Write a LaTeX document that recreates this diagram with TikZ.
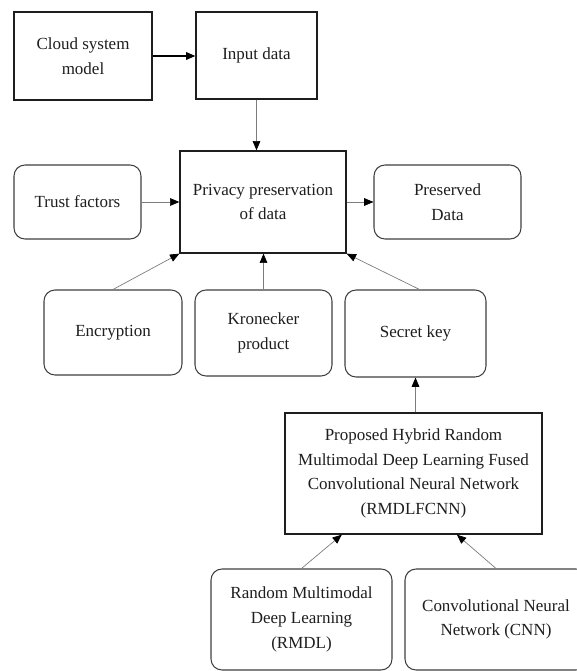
\documentclass[tikz,border=0pt]{standalone}
\usepackage{fontspec}
\setmainfont{Liberation Serif}
\usetikzlibrary{arrows.meta,positioning}
\definecolor{ink}{RGB}{30,30,30}
\definecolor{wire}{RGB}{125,125,125}
\tikzset{
  >={Triangle[length=2.8mm,width=2.3mm,color=black]},
  sqbox/.style={draw=ink,line width=1.1pt,fill=white,align=center,
    text=ink,font=\fontsize{14.5}{21}\selectfont,inner sep=2pt},
  rbox/.style={sqbox,draw=ink!85,line width=0.9pt,rounded corners=0.33cm},
  flow/.style={->,draw=wire,line width=0.6pt},
  bold flow/.style={->,draw=black,line width=1.3pt},
}

\begin{document}
\begin{tikzpicture}
    \useasboundingbox (0,0) rectangle (17.28,-20.13);
    % top row
    \node[sqbox,minimum width=4.14cm,minimum height=2.64cm] (cloud) at (2.49,-1.68) {Cloud system\\model};
    \node[sqbox,minimum width=3.63cm,minimum height=2.61cm] (input) at (7.695,-1.665) {Input data};
    % middle row
    \node[sqbox,minimum width=4.98cm,minimum height=3.06cm] (privacy) at (7.89,-6.06) {Privacy preservation\\of data};
    \node[rbox,minimum width=3.81cm,minimum height=2.22cm] (trust) at (2.325,-6.06) {Trust factors};
    \node[rbox,minimum width=4.41cm,minimum height=2.22cm] (preserved) at (13.425,-6.06) {Preserved\\Data};
    % techniques
    \node[rbox,minimum width=4.14cm,minimum height=2.55cm] (encrypt) at (3.39,-9.975) {Encryption};
    \node[rbox,minimum width=4.11cm,minimum height=2.58cm] (kron) at (7.905,-9.99) {Kronecker\\product};
    \node[rbox,minimum width=4.23cm,minimum height=2.61cm] (secret) at (12.465,-10.005) {Secret key};
    % proposed model
    \node[sqbox,minimum width=7.71cm,minimum height=3.63cm] (rmdlfcnn) at (12.405,-14.205) {Proposed Hybrid Random\\Multimodal Deep Learning Fused\\Convolutional Neural Network\\(RMDLFCNN)};
    \node[rbox,minimum width=5.43cm,minimum height=3.03cm] (rmdl) at (9.045,-18.585) {Random Multimodal\\Deep Learning\\(RMDL)};
    \node[rbox,minimum width=5.46cm,minimum height=3.03cm] (cnn) at (14.88,-18.585) {Convolutional Neural\\Network (CNN)};

    \draw[bold flow] (cloud.east) -- (cloud.east -| input.west);
    \draw[flow] (input.south) -- (input.south |- privacy.north);
    \draw[flow] (trust.east) -- (privacy.west);
    \draw[flow] (privacy.east) -- (preserved.west);
    \draw[flow] (encrypt.north) -- (privacy.south west);
    \draw[flow] (kron.north) -- (kron.north |- privacy.south);
    \draw[flow] ([xshift=0.12cm]secret.north) -- (privacy.south east);
    \draw[flow] (secret.south |- rmdlfcnn.north) -- (secret.south);
    \draw[flow] (rmdl.north) -- ([xshift=-2.15cm]rmdlfcnn.south);
    \draw[flow] (cnn.north) -- ([xshift=1.3cm]rmdlfcnn.south);
  \end{tikzpicture}
\end{document}
